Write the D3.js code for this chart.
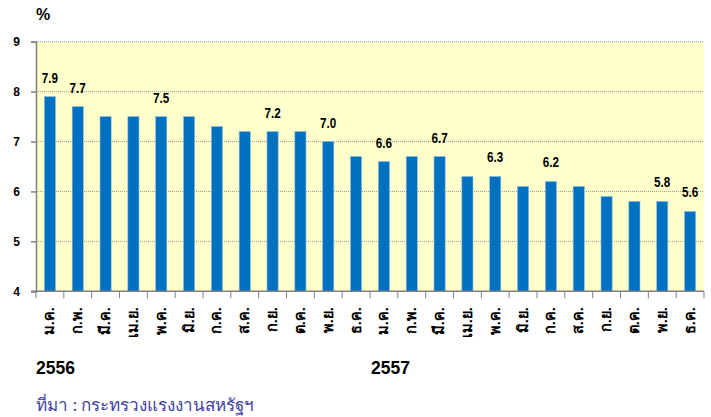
<!DOCTYPE html>
<html><head><meta charset="utf-8">
<script src="https://cdn.jsdelivr.net/npm/d3@7"></script>
<style>body{margin:0;background:#fff}svg{display:block}</style>
</head><body>
<svg id="c" width="711" height="417"></svg>
<script>
const months = ["ม.ค.","ก.พ.","มี.ค.","เม.ย.","พ.ค.","มิ.ย.","ก.ค.","ส.ค.","ก.ย.","ต.ค.","พ.ย.","ธ.ค.",
                "ม.ค.","ก.พ.","มี.ค.","เม.ย.","พ.ค.","มิ.ย.","ก.ค.","ส.ค.","ก.ย.","ต.ค.","พ.ย.","ธ.ค."];
const values = [7.9,7.7,7.5,7.5,7.5,7.5,7.3,7.2,7.2,7.2,7.0,6.7,
                6.6,6.7,6.7,6.3,6.3,6.1,6.2,6.1,5.9,5.8,5.8,5.6];
const labelled = [0,1,4,8,10,12,14,16,18,22,23];
const yTicks = [4,5,6,7,8,9];
const years = ["2556","2557"];
const yearStart = [0,12];
const unit = "%";
const source = "ที่มา : กระทรวงแรงงานสหรัฐฯ";

const svg = d3.select("#c");
const L=36, R=704, T=41.7, B=291.3;
const font = "'Liberation Sans',Arial,sans-serif";
const idx = d3.range(values.length);
const x = d3.scaleBand().domain(idx).range([L,R]).paddingInner(0.6).paddingOuter(0.3);
const xb = d3.scaleBand().domain(idx).range([L,R]);
const y = d3.scaleLinear().domain([4,9]).range([B,T]);

svg.append("rect").attr("x",L).attr("y",T).attr("width",R-L).attr("height",B-T).attr("fill","#FFFFCC");

svg.append("g").selectAll("line").data(yTicks.filter(d=>d>4)).join("line")
  .attr("x1",L).attr("x2",R).attr("y1",d=>y(d)).attr("y2",d=>y(d))
  .attr("stroke","#9a9a9a").attr("stroke-width",1).attr("stroke-dasharray","1,1");

svg.append("g").selectAll("rect").data(idx).join("rect")
  .attr("x",i=>x(i)).attr("width",x.bandwidth())
  .attr("y",i=>y(values[i])).attr("height",i=>B-y(values[i]))
  .attr("fill","#0070C0").attr("stroke","#8DB9DE").attr("stroke-width",0.6);

// y axis
const ya = d3.axisLeft(y).tickValues(yTicks).tickSize(5).tickFormat(d3.format("d"));
const gy = svg.append("g").attr("transform",`translate(${L},0)`).call(ya);
gy.select(".domain").attr("stroke","#808080").attr("stroke-width",1.5);
gy.selectAll(".tick line").attr("stroke","#808080").attr("stroke-width",1.5);
gy.selectAll(".tick text").attr("x",-16).attr("font-family",font).attr("font-weight","bold")
  .attr("font-size",12).attr("fill","#000");

// x axis
svg.append("line").attr("x1",L-5).attr("x2",R).attr("y1",B).attr("y2",B).attr("stroke","#808080").attr("stroke-width",1.5);
svg.append("g").selectAll("line").data(d3.range(values.length+1)).join("line")
  .attr("x1",i=>L+i*xb.step()).attr("x2",i=>L+i*xb.step()).attr("y1",B).attr("y2",B+7)
  .attr("stroke","#808080").attr("stroke-width",1);

svg.append("g").selectAll("text").data(idx).join("text")
  .attr("transform",i=>`translate(${x(i)+x.bandwidth()/2+4.5},${B+16}) rotate(-90)`)
  .attr("text-anchor","end").attr("font-family",font).attr("font-weight","bold").attr("font-size",14.5)
  .attr("fill","#000").text(i=>months[i]);

// value labels (narrow bold)
svg.append("g").selectAll("text").data(labelled).join("text")
  .attr("transform",i=>`translate(${x(i)+x.bandwidth()/2},${y(values[i])-14}) scale(0.78,1)`)
  .attr("text-anchor","middle").attr("font-family",font).attr("font-weight","bold").attr("font-size",15)
  .attr("fill","#000").text(i=>values[i].toFixed(1));

svg.append("text").attr("x",36).attr("y",20).attr("font-family",font)
  .attr("font-weight","bold").attr("font-size",16).text(unit);

svg.append("g").selectAll("text").data(years).join("text")
  .attr("x",(d,i)=>xb(yearStart[i])+(i?1:0)).attr("y",374)
  .attr("font-family",font).attr("font-weight","bold").attr("font-size",17.5)
  .attr("fill","#000").text(d=>d);

svg.append("text").attr("x",36).attr("y",411).attr("font-family","'Noto Sans',sans-serif")
  .attr("font-size",17).attr("fill","#3F3FA0").text(source);
</script>
</body></html>
